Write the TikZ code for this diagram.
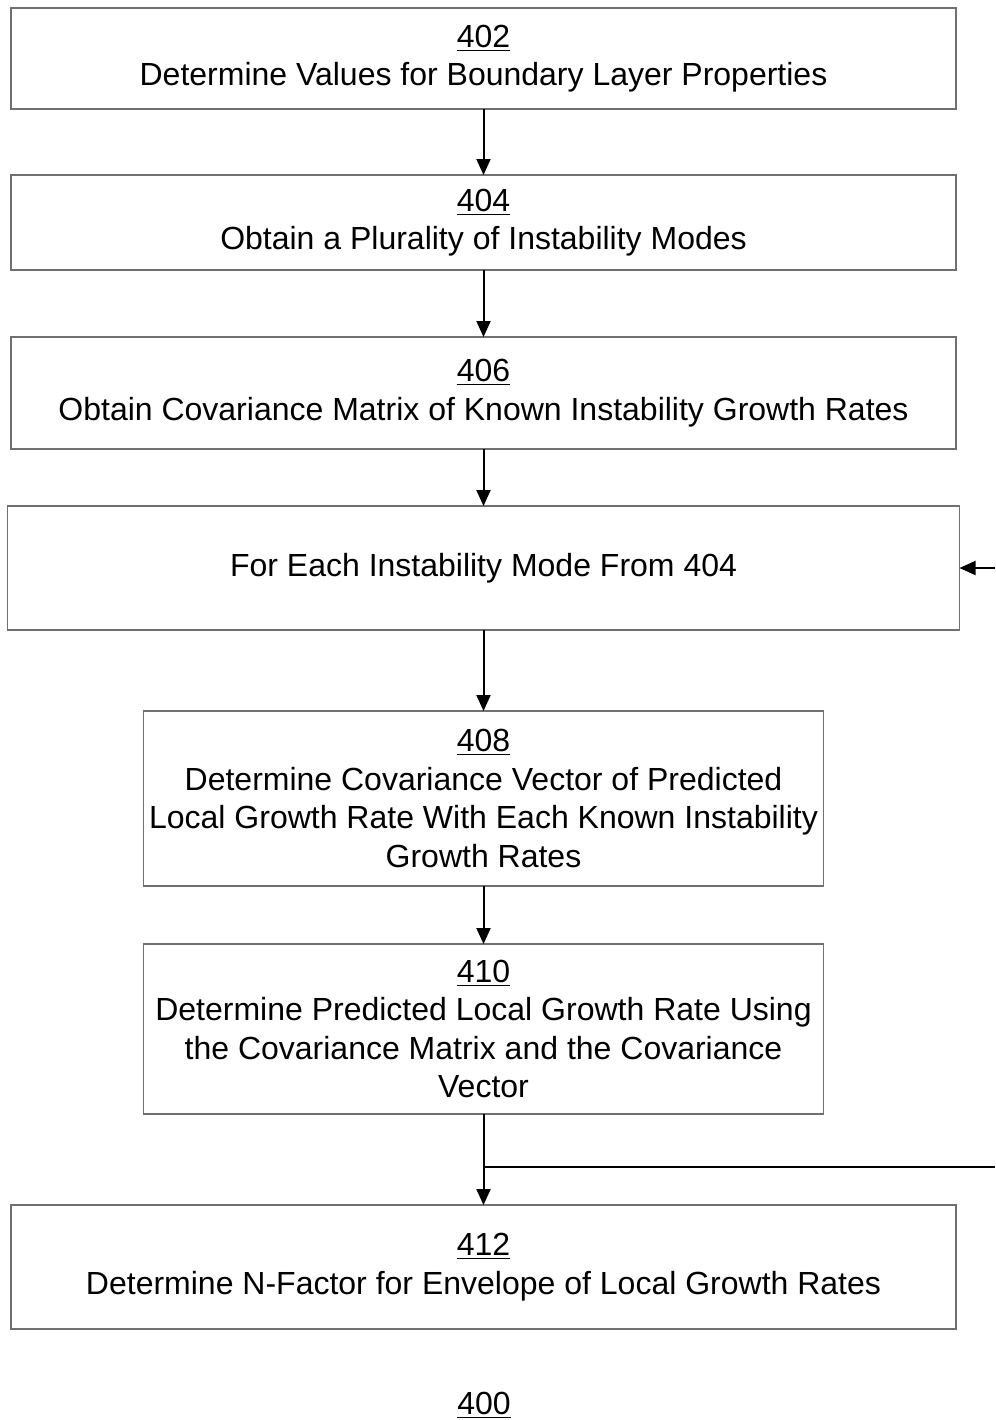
\documentclass[tikz,border=0pt]{standalone}
\usepackage{fontspec}
\setmainfont{Liberation Sans}
\definecolor{boxbd}{HTML}{707070}
\usetikzlibrary{arrows.meta, positioning}

\begin{document}
\begin{tikzpicture}[
        x=0.5bp, y=-0.5bp,
        font=\fontsize{16bp}{19.25bp}\selectfont,
        step_box/.style={
            rectangle,
            draw=boxbd,
            line width=0.6bp,
            outer sep=0pt,
            fill=white,
            align=center,
            inner sep=2bp,
            minimum width=472.5bp
        },
        inner_box/.style={
            step_box,
            minimum width=340bp
        },
        flow/.style={
            draw=black,
            line width=1bp,
            -{Triangle[length=8bp,width=7bp]}
        }
    ]
    \useasboundingbox (0,0) rectangle (995,1420);

    % Step 402
    \node[step_box, minimum height=50.5bp] (n402) at (483.5,58.5)
        {\underline{402}\\Determine Values for Boundary Layer Properties};

    % Step 404
    \node[step_box, minimum height=47.5bp, below=33bp of n402] (n404)
        {\underline{404}\\Obtain a Plurality of Instability Modes};

    % Step 406
    \node[step_box, minimum height=56bp, below=33.5bp of n404] (n406)
        {\underline{406}\\Obtain Covariance Matrix of Known Instability Growth Rates};

    % Loop over modes
    \node[step_box, minimum width=476bp, minimum height=62bp, below=28.5bp of n406] (loop)
        {For Each Instability Mode From 404};

    % Step 408
    \node[inner_box, minimum height=87.5bp, below=40.5bp of loop] (n408)
        {\underline{408}\\Determine Covariance Vector of Predicted\\Local Growth Rate With Each Known Instability\\Growth Rates};

    % Step 410
    \node[inner_box, minimum height=85bp, below=29bp of n408] (n410)
        {\underline{410}\\Determine Predicted Local Growth Rate Using\\the Covariance Matrix and the Covariance\\Vector};

    % Step 412
    \node[step_box, minimum height=62bp, below=45.5bp of n410] (n412)
        {\underline{412}\\Determine N-Factor for Envelope of Local Growth Rates};

    % Figure number
    \node (fig) at (484,1405) {\underline{400}};

    % Connectors
    \draw[flow] (n402) -- (n404);
    \draw[flow] (n404) -- (n406);
    \draw[flow] (n406) -- (loop);
    \draw[flow] (loop) -- (n408);
    \draw[flow] (n408) -- (n410);
    \draw[flow] (n410) -- (n412);

    % Loop back (runs off the right edge)
    \coordinate (back_out) at (995,1167);
    \coordinate (back_in) at (995,568);
    \draw[line width=1bp] (n410.south |- back_out) -- (back_out);
    \draw[flow] (back_in) -- (loop.east |- back_in);

\end{tikzpicture}
\end{document}
